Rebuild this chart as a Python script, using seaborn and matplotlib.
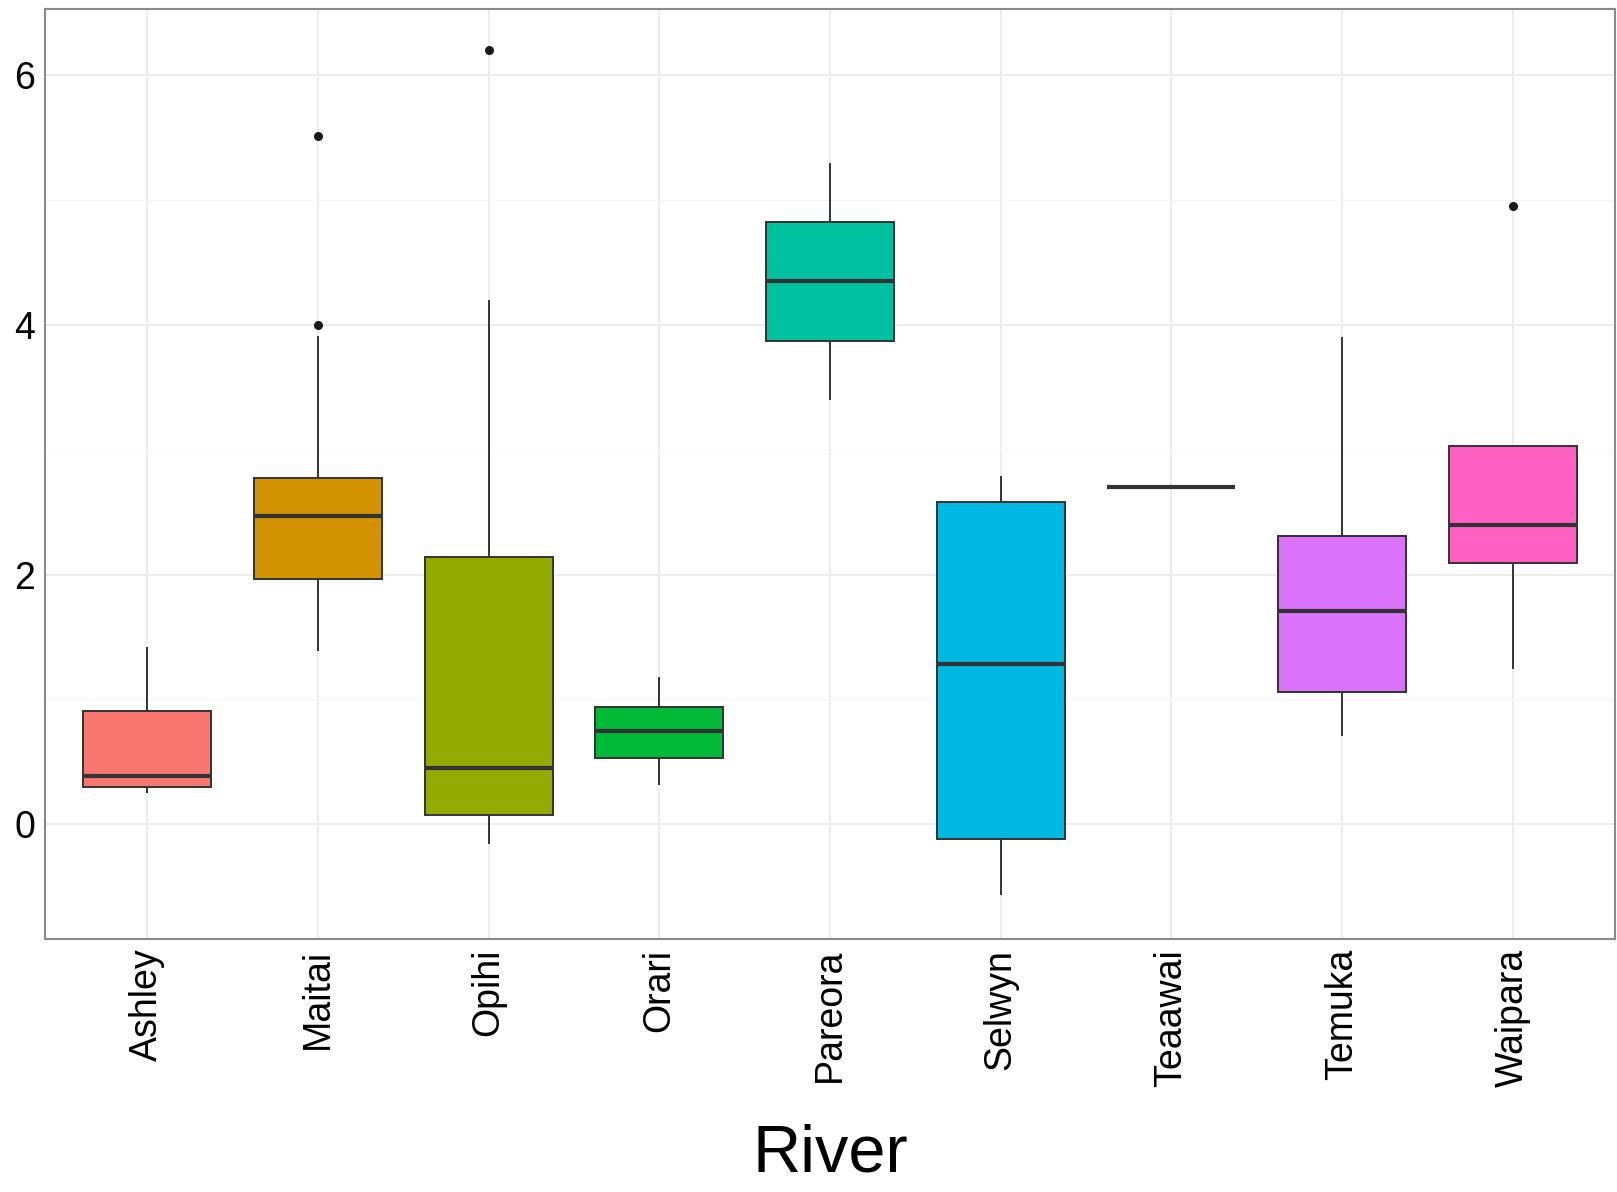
import matplotlib
matplotlib.use("Agg")
import matplotlib.pyplot as plt
import seaborn as sns
import pandas as pd
from matplotlib.ticker import MultipleLocator

rivers = ["Ashley", "Maitai", "Opihi", "Orari", "Pareora",
          "Selwyn", "Teaawai", "Temuka", "Waipara"]
ashley = [0.25, 0.30, 0.39, 0.91, 1.42]
maitai = [1.39, 1.96, 1.96, 1.96, 2.47, 2.47, 2.47, 2.77, 2.77, 2.77, 3.91, 4.00, 5.51]
opihi = [-0.16, 0.07, 0.07, 0.45, 0.45, 2.14, 2.14, 4.20, 6.20]
orari = [0.31, 0.53, 0.75, 0.94, 1.18]
pareora = [3.40, 3.87, 4.35, 4.82, 5.30]
selwyn = [-0.57, -0.12, 1.28, 2.58, 2.79]
teaawai = [2.70]
temuka = [0.71, 1.06, 1.71, 2.31, 3.90]
waipara = [1.24, 2.09, 2.09, 2.40, 2.40, 3.03, 3.03, 3.03, 4.95]

colors = ["#F8766D", "#D39200", "#93AA00", "#00BA38", "#00C19F",
          "#00B9E3", "#619CFF", "#DB72FB", "#FF61C3"]

values = [ashley, maitai, opihi, orari, pareora, selwyn, teaawai, temuka, waipara]
df = pd.DataFrame({
    "River": [r for r, v in zip(rivers, values) for _ in v],
    "Value": [x for v in values for x in v],
})

sns.set_style("white")
plt.rcParams["font.family"] = ["Liberation Sans", "DejaVu Sans"]

fig = plt.figure(figsize=(16.17, 11.92), dpi=100)
ax = fig.add_axes([0.0278, 0.2122, 0.971, 0.7803])

sns.boxplot(data=df, x="River", y="Value", hue="River", order=rivers,
            hue_order=rivers, palette=colors, saturation=1, legend=False,
            width=0.75, linecolor="#333333", linewidth=1.4, fliersize=5.5,
            medianprops={"linewidth": 3, "color": "#333333"},
            capprops={"visible": False},
            flierprops={"marker": "o", "markerfacecolor": "#1a1a1a",
                        "markeredgecolor": "#1a1a1a"},
            ax=ax)

# ggplot-like expansion
ax.set_ylim(-0.92, 6.53)
ax.set_xlim(-0.6, 8.6)
ax.yaxis.set_major_locator(MultipleLocator(2))
ax.yaxis.set_minor_locator(MultipleLocator(1))
ax.grid(which="major", color="#EBEBEB", linewidth=1.3, zorder=0)
ax.grid(which="minor", axis="y", color="#F6F6F6", linewidth=0.8, zorder=0)
ax.set_axisbelow(True)

for s in ax.spines.values():
    s.set_visible(True)
    s.set_color("#8A8A8A")
    s.set_linewidth(1.5)

ax.tick_params(axis="both", which="major", length=5, width=1.2, color="#333333",
               labelsize=27, labelcolor="black", pad=2)
ax.tick_params(axis="y", which="minor", length=0)
ax.tick_params(axis="x", labelrotation=90)

ax.set_ylabel("")
ax.set_xlabel("River", fontsize=48, labelpad=26, color="black")

fig.savefig("out.png", dpi=100)
